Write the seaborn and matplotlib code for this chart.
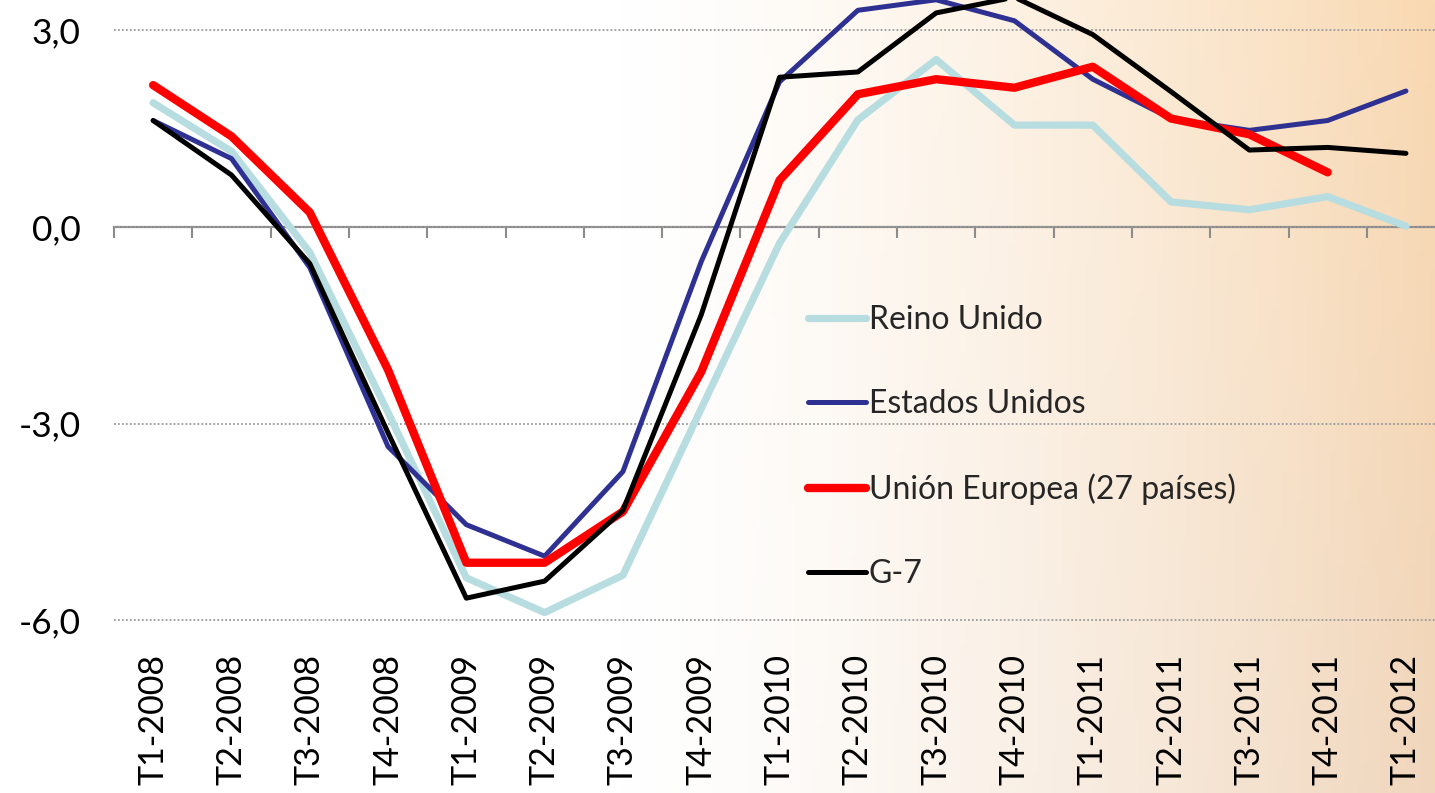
import numpy as np
import pandas as pd
import seaborn as sns
import matplotlib.pyplot as plt
from matplotlib.colors import to_rgb
from matplotlib.ticker import FuncFormatter

# Quarterly GDP growth (% interannual)
quarters = ["T1-2008", "T2-2008", "T3-2008", "T4-2008",
            "T1-2009", "T2-2009", "T3-2009", "T4-2009",
            "T1-2010", "T2-2010", "T3-2010", "T4-2010",
            "T1-2011", "T2-2011", "T3-2011", "T4-2011", "T1-2012"]

reino_unido = [1.89, 1.15, -0.39, -2.83, -5.35, -5.88, -5.31, -2.77,
               -0.25, 1.63, 2.55, 1.55, 1.55, 0.38, 0.26, 0.46, 0.01]
estados_unidos = [1.62, 1.04, -0.62, -3.35, -4.54, -5.02, -3.73, -0.53,
                  2.21, 3.30, 3.46, 3.14, 2.25, 1.65, 1.47, 1.62, 2.07]
union_europea = [2.16, 1.38, 0.22, -2.18, -5.12, -5.12, -4.34, -2.21,
                 0.71, 2.02, 2.25, 2.12, 2.44, 1.65, 1.41, 0.83, np.nan]
g7 = [1.62, 0.79, -0.56, -3.14, -5.66, -5.40, -4.32, -1.34,
      2.28, 2.36, 3.26, 3.50, 2.93, 2.06, 1.17, 1.21, 1.12]

series_names = ["Reino Unido", "Estados Unidos", "Unión Europea (27 países)", "G-7"]
series_values = [reino_unido, estados_unidos, union_europea, g7]
colors = ["#B7DDE0", "#2E3192", "#FF0000", "#000000"]
widths = [5.2, 3.6, 6.0, 3.6]

sns.set_theme(style="white")
plt.rcParams["font.family"] = ["Lato", "DejaVu Sans"]

W, H = 1435, 793
fig = plt.figure(figsize=(W / 100, H / 100), dpi=100)

# background: white on the left fading into a warm peach on the right
bg = fig.add_axes([0, 0, 1, 1], zorder=-10)
xs = np.linspace(0, 1, 300)
ys = np.linspace(0, 1, 160)
w = np.clip((xs * W - 620) / (W - 620), 0, 1) ** 1.4
top_c = np.array(to_rgb("#F9D9B2"))
bot_c = np.array(to_rgb("#F0D6BC"))
peach = top_c[None, :] * (1 - ys[:, None]) + bot_c[None, :] * ys[:, None]
img = np.ones((len(ys), len(xs), 3)) * (1 - w[None, :, None]) + peach[:, None, :] * w[None, :, None]
bg.imshow(img, aspect="auto", extent=[0, 1, 0, 1], origin="upper")
bg.axis("off")

y_min, y_max = -6.45, 3.457
ax = fig.add_axes([114 / W, 1 - 650 / H, 17 * 78.3 / W, 650 / H])
ax.set_facecolor("none")

df = pd.DataFrame({"pos": np.arange(len(quarters)), "trimestre": quarters})
for name, vals, col, lw in zip(series_names, series_values, colors, widths):
    df[name] = vals
    sns.lineplot(data=df, x="pos", y=name, color=col, linewidth=lw, label=name,
                 ax=ax, solid_capstyle="round", solid_joinstyle="round")

ax.set_xlim(-0.5, len(quarters) - 0.5)
ax.set_ylim(y_min, y_max)
ax.set_xlabel("")
ax.set_ylabel("")

for s in ax.spines.values():
    s.set_visible(False)

ax.set_yticks([-6, -3, 0, 3])
ax.yaxis.set_major_formatter(FuncFormatter(lambda v, p: f"{v:.1f}".replace(".", ",")))
ax.yaxis.grid(True, linestyle=(0, (1, 1.2)), color="#9A9A9A", linewidth=1.3)
ax.tick_params(axis="y", length=0, pad=24, labelsize=25.5, labelcolor="black")

ax.set_xticks(df["pos"])
ax.set_xticklabels(quarters, rotation=90)
ax.tick_params(axis="x", length=0, pad=3, labelsize=24.5, labelcolor="black")

# category axis crossing at zero with tick marks between quarters
frac0 = (0 - y_min) / (y_max - y_min)
sec = ax.secondary_xaxis(frac0)
sec.set_xticks(np.arange(-0.5, len(quarters), 1))
sec.set_xticklabels([])
sec.tick_params(axis="x", direction="out", length=8, width=1.5, color="#8C8C8C",
                bottom=True, top=False)
for s in sec.spines.values():
    s.set_color("#8C8C8C")
    s.set_linewidth(1.6)

leg = ax.legend(loc="center left", bbox_to_anchor=(808 / W, 1 - 447 / H),
                bbox_transform=fig.transFigure, frameon=False, fontsize=23,
                handlelength=1.8, handletextpad=0.1, labelspacing=1.69,
                borderpad=0, borderaxespad=0)
for line in leg.get_lines():
    line.set_solid_capstyle("round")

fig.savefig("out.png", dpi=100)
